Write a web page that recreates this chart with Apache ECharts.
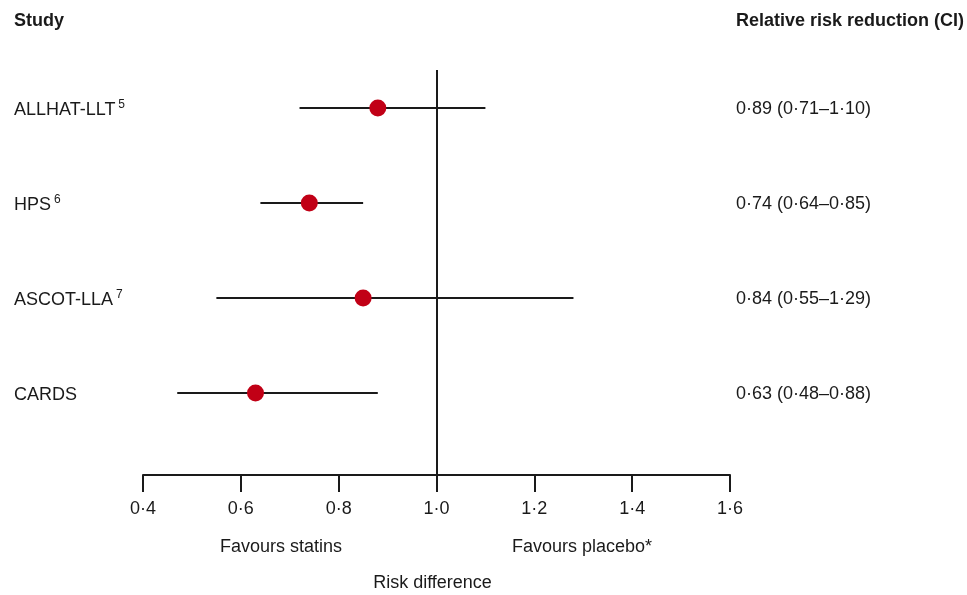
<!DOCTYPE html>
<html>
<head>
<meta charset="utf-8">
<script src="https://cdn.jsdelivr.net/npm/echarts@6/dist/echarts.min.js"></script>
<style>html,body{margin:0;padding:0;background:#fff}#c{width:967px;height:595px}</style>
</head>
<body>
<div id="c"></div>
<script>
// ---- data ----
const studies = ['ALLHAT-LLT', 'HPS', 'ASCOT-LLA', 'CARDS'];
const studyRefs = ['5', '6', '7', ''];
const estimates = [0.88, 0.74, 0.85, 0.63];
const ciLow = [0.72, 0.64, 0.55, 0.47];
const ciHigh = [1.10, 0.85, 1.28, 0.88];
const rrLabels = ['0·89 (0·71–1·10)', '0·74 (0·64–0·85)', '0·84 (0·55–1·29)', '0·63 (0·48–0·88)'];
const xMin = 0.4, xMax = 1.6, xStep = 0.2;
const nullValue = 1.0;

const FONT = '"Liberation Sans", Arial, "DejaVu Sans", sans-serif';
const INK = '#1a1a1a';

const chart = echarts.init(document.getElementById('c'), null, {renderer: 'canvas'});

const ciData = studies.map((s, i) => [ciLow[i], ciHigh[i], i]);
const estData = studies.map((s, i) => [estimates[i], i]);
const labelData = studies.map((s, i) => [i]);

chart.setOption({
  animation: false,
  backgroundColor: '#fff',
  textStyle: {fontFamily: FONT},
  grid: {left: 143, right: 237, top: 70, bottom: 120, containLabel: false, outerBoundsMode: 'none'},
  xAxis: {
    type: 'value', min: xMin, max: xMax, interval: xStep,
    axisLine: {show: true, onZero: false, lineStyle: {color: INK, width: 2}},
    axisTick: {show: true, length: 17, lineStyle: {color: INK, width: 2}},
    splitLine: {show: false},
    axisLabel: {
      margin: 25, color: INK, fontSize: 18, fontFamily: FONT,
      formatter: v => v.toFixed(1).replace('.', '·')
    },
    name: 'Risk difference', nameLocation: 'middle', nameGap: 99,
    nameTextStyle: {color: INK, fontSize: 18, fontFamily: FONT, padding: [0, 8, 0, 0]}
  },
  yAxis: {type: 'value', min: -0.4, max: 3.863, inverse: true, show: false},
  graphic: [
    {type: 'text', left: 14, top: 12, style: {text: 'Study', font: 'bold 18px ' + FONT, fill: INK}},
    {type: 'text', left: 736, top: 12, style: {text: 'Relative risk reduction (CI)', font: 'bold 18px ' + FONT, fill: INK}},
    {type: 'text', left: 220, top: 538, style: {text: 'Favours statins', font: '18px ' + FONT, fill: INK}},
    {type: 'text', left: 512, top: 538, style: {text: 'Favours placebo*', font: '18px ' + FONT, fill: INK}}
  ],
  series: [
    {
      type: 'custom', clip: false, z: 2,
      data: ciData,
      renderItem: (params, api) => {
        const p1 = api.coord([api.value(0), api.value(2)]);
        const p2 = api.coord([api.value(1), api.value(2)]);
        return {type: 'line', shape: {x1: p1[0], y1: p1[1], x2: p2[0], y2: p2[1]},
                style: {stroke: INK, lineWidth: 2}};
      }
    },
    {
      type: 'custom', clip: false, z: 2,
      data: labelData,
      renderItem: (params, api) => {
        const i = api.value(0);
        const y = api.coord([nullValue, i])[1] + 1;
        const txt = '{m|' + studies[i] + '}' + (studyRefs[i] ? '{s|' + studyRefs[i] + '}' : '');
        return {type: 'group', children: [
          {type: 'text', x: 14, y: y, style: {
            text: txt, fill: INK, verticalAlign: 'middle',
            rich: {
              m: {fontSize: 18, fontFamily: FONT, color: INK, lineHeight: 20, verticalAlign: 'bottom'},
              s: {fontSize: 12, fontFamily: FONT, color: INK, lineHeight: 20, verticalAlign: 'top', padding: [0, 0, 0, 3]}
            }
          }},
          {type: 'text', x: 736, y: y, style: {text: rrLabels[i], font: '18px ' + FONT, fill: INK, verticalAlign: 'middle'}}
        ]};
      }
    },
    {
      type: 'scatter', z: 5,
      data: estData,
      symbol: 'circle', symbolSize: 17,
      itemStyle: {color: '#c10016', opacity: 1},
      markLine: {
        silent: true, symbol: 'none', animation: false,
        label: {show: false},
        lineStyle: {color: INK, width: 2, type: 'solid'},
        data: [{xAxis: nullValue}]
      }
    }
  ]
});
</script>
</body>
</html>
